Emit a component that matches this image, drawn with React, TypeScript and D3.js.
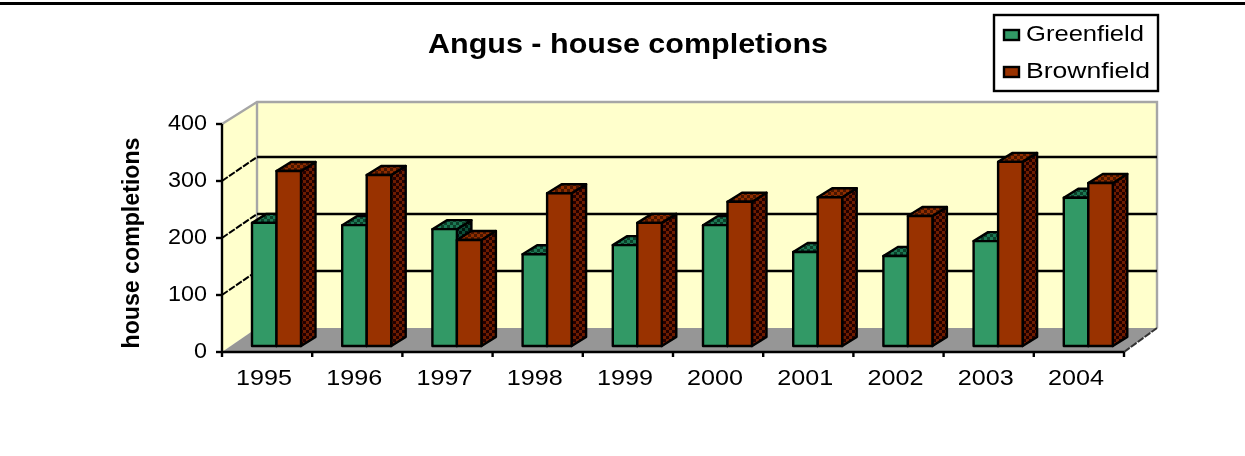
import React from "react";
import * as d3 from "d3";

const years = ["1995", "1996", "1997", "1998", "1999", "2000", "2001", "2002", "2003", "2004"];
const greenfield = [216, 212, 205, 161, 177, 212, 165, 158, 184, 260];
const brownfield = [307, 300, 186, 268, 216, 253, 261, 228, 323, 286];
const yTicks = [0, 100, 200, 300, 400];
const seriesNames = ["Greenfield", "Brownfield"];

const width = 1245;
const height = 456;

// front plane of the 3d box and how far back the rear wall sits
const frontLeft = 222;
const frontRight = 1124;
const frontBottom = 352;
const frontTop = 124;
const depthX = 35;
const depthY = -24;

// bars stand a little way into the box
const barInsetX = 9;
const barInsetY = -6;
const barDepthX = 14.5;
const barDepthY = -9;

const green = "#339966";
const brown = "#993300";
const wall = "#ffffcc";
const floor = "#969696";
const edge = "#a6a6a6";
const font = "'Liberation Sans', Arial, sans-serif";

const x = d3.scaleBand().domain(years).range([frontLeft, frontRight]);
const y = d3.scaleLinear().domain([0, 400]).range([frontBottom, frontTop]);
const inner = d3
  .scaleBand()
  .domain(seriesNames)
  .range([21, 70]);

const poly = (pts: number[][]) => {
  const p = d3.path();
  pts.forEach((d, i) => (i === 0 ? p.moveTo(d[0], d[1]) : p.lineTo(d[0], d[1])));
  p.closePath();
  return p.toString();
};

const Bar = ({ year, name, value, fill, pattern }: any) => {
  const x0 = x(year)! + inner(name)! + barInsetX;
  const x1 = x0 + inner.bandwidth();
  const top = y(value) + barInsetY;
  const bottom = y(0) + barInsetY;
  return (
    <g stroke="#000" strokeWidth={2.4} strokeLinejoin="round">
      <path
        d={poly([[x1, top], [x1 + barDepthX, top + barDepthY], [x1 + barDepthX, bottom + barDepthY], [x1, bottom]])}
        fill={`url(#${pattern}-side)`}
      />
      <path
        d={poly([[x0, top], [x0 + barDepthX, top + barDepthY], [x1 + barDepthX, top + barDepthY], [x1, top]])}
        fill={`url(#${pattern}-top)`}
      />
      <rect x={x0} y={top} width={x1 - x0} height={bottom - top} fill={fill} />
    </g>
  );
};

const Dither = ({ id, a, b }: any) => (
  <pattern id={id} width={6} height={6} patternUnits="userSpaceOnUse">
    <rect width={6} height={6} fill={a} />
    <rect width={3} height={3} fill={b} />
    <rect x={3} y={3} width={3} height={3} fill={b} />
  </pattern>
);

export default function App() {
  const backLeft = frontLeft + depthX;
  const backRight = frontRight + depthX - 2;
  const backBottom = frontBottom + depthY;
  const backTop = frontTop + depthY + 2;

  return (
    <svg
      width={width}
      height={height}
      style={{ position: "absolute", left: 0, top: 0, background: "#fff" }}
      fontFamily={font}
    >
      <defs>
        <Dither id="green-side" a="#0f4d38" b="#02140d" />
        <Dither id="green-top" a="#1f7a55" b="#0a3f2b" />
        <Dither id="brown-side" a="#6e1c00" b="#210600" />
        <Dither id="brown-top" a="#8f2e00" b="#4a1500" />
        <filter id="soft" x="-2%" y="-2%" width="104%" height="104%">
          <feGaussianBlur stdDeviation={0.75} />
        </filter>
      </defs>

      <g filter="url(#soft)">
        <line x1={0} x2={width} y1={3.5} y2={3.5} stroke="#000" strokeWidth={3} />

        <text
          x={628}
          y={53}
          textAnchor="middle"
          fontSize={27}
          fontWeight="bold"
          textLength={400}
          lengthAdjust="spacingAndGlyphs"
        >
          Angus - house completions
        </text>

        {/* walls and floor */}
        <path d={poly([[frontLeft, frontBottom], [frontLeft, frontTop], [backLeft, backTop], [backLeft, backBottom]])} fill={wall} />
        <rect x={backLeft} y={backTop} width={backRight - backLeft} height={backBottom - backTop} fill={wall} />
        <path d={poly([[frontLeft, frontBottom], [frontRight, frontBottom], [backRight, backBottom], [backLeft, backBottom]])} fill={floor} />
        <path
          d={`M${frontLeft},${frontTop}L${backLeft},${backTop}H${backRight}V${backBottom}`}
          fill="none"
          stroke={edge}
          strokeWidth={2.4}
        />
        <line x1={backLeft} x2={backLeft} y1={backTop} y2={backBottom} stroke={edge} strokeWidth={2.4} />

        {/* gridlines */}
        {yTicks.filter((t) => t > 0 && t < 400).map((t) => (
          <g key={t} stroke="#000" fill="none">
            <path d={`M${backLeft},${y(t) + depthY}H${backRight}`} strokeWidth={2.4} />
            <path d={`M${frontLeft},${y(t)}L${backLeft},${y(t) + depthY}`} strokeWidth={2} strokeDasharray="7 1.5" />
          </g>
        ))}
        <path
          d={`M${frontRight},${frontBottom}L${backRight},${backBottom}`}
          stroke="#333"
          strokeWidth={2}
          strokeDasharray="7 1.5"
          fill="none"
        />

        {/* bars */}
        {years.map((yr, i) => (
          <g key={yr}>
            <Bar year={yr} name={seriesNames[0]} value={greenfield[i]} fill={green} pattern="green" />
            <Bar year={yr} name={seriesNames[1]} value={brownfield[i]} fill={brown} pattern="brown" />
          </g>
        ))}

        {/* axes */}
        <g stroke="#000" strokeWidth={2.4}>
          <line x1={frontLeft} x2={frontLeft} y1={frontTop} y2={frontBottom + 5} />
          <line x1={frontLeft} x2={frontRight} y1={frontBottom} y2={frontBottom} />
          {yTicks.map((t) => (
            <line key={t} x1={frontLeft - 6} x2={frontLeft} y1={y(t)} y2={y(t)} />
          ))}
          {years.map((yr) => (
            <line key={yr} x1={x(yr)! + x.bandwidth()} x2={x(yr)! + x.bandwidth()} y1={frontBottom} y2={frontBottom + 5} />
          ))}
        </g>

        {yTicks.map((t) => (
          <text
            key={t}
            x={207}
            y={y(t) + 6}
            textAnchor="end"
            fontSize={22}
            textLength={String(t).length * 13}
            lengthAdjust="spacingAndGlyphs"
          >
            {t}
          </text>
        ))}
        {years.map((yr) => (
          <text
            key={yr}
            x={x(yr)! + x.bandwidth() / 2 - 3}
            y={385}
            textAnchor="middle"
            fontSize={22}
            textLength={56}
            lengthAdjust="spacingAndGlyphs"
          >
            {yr}
          </text>
        ))}

        <text
          transform="translate(139,243) rotate(-90)"
          textAnchor="middle"
          fontSize={23}
          fontWeight="bold"
          textLength={211}
          lengthAdjust="spacingAndGlyphs"
        >
          house completions
        </text>

        {/* legend */}
        <rect x={994} y={15} width={164} height={76} fill="#fff" stroke="#000" strokeWidth={2.4} />
        {seriesNames.map((name, i) => (
          <g key={name}>
            <rect
              x={1004}
              y={30 + i * 37}
              width={15}
              height={10}
              fill={i === 0 ? green : brown}
              stroke="#000"
              strokeWidth={2.4}
            />
            <text
              x={1026}
              y={41 + i * 37}
              fontSize={22}
              textLength={i === 0 ? 118 : 124}
              lengthAdjust="spacingAndGlyphs"
            >
              {name}
            </text>
          </g>
        ))}
      </g>
    </svg>
  );
}
